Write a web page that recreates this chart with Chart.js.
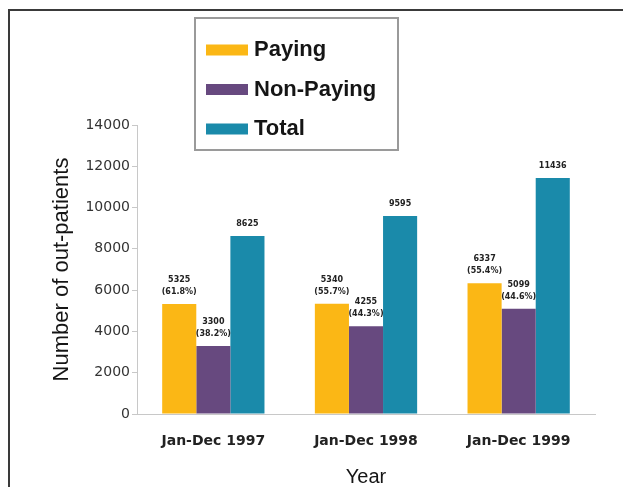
<!DOCTYPE html>
<html>
<head>
<meta charset="utf-8">
<script src="https://cdn.jsdelivr.net/npm/chart.js@4"></script>
<style>
  html, body { margin: 0; padding: 0; background: #fff; }
  canvas { display: block; }
</style>
</head>
<body>
<canvas id="chart" width="623" height="487"></canvas>
<script>
const years = ['Jan-Dec 1997', 'Jan-Dec 1998', 'Jan-Dec 1999']
const paying = [5325, 5340, 6337]
const nonPaying = [3300, 4255, 5099]
const total = [8625, 9595, 11436]
const payingPct = ['61.8%', '55.7%', '55.4%']
const nonPayingPct = ['38.2%', '44.3%', '44.6%']
const yTicks = [0, 2000, 4000, 6000, 8000, 10000, 12000, 14000]

const COLORS = {
  paying: '#FBB715',
  nonPaying: '#67497F',
  total: '#1A8AAA',
}
const SANS = "'Liberation Sans', Arial, sans-serif"

// outer frame (left + top edges of the original figure box)
const framePlugin = {
  id: 'frame',
  beforeDraw(chart) {
    const ctx = chart.ctx
    ctx.save()
    ctx.fillStyle = '#fff'
    ctx.fillRect(0, 0, chart.width, chart.height)
    ctx.fillStyle = '#3a3a3a'
    ctx.fillRect(8, 9, 2, chart.height - 9)
    ctx.fillRect(8, 9, chart.width - 8, 2)
    ctx.restore()
  }
}

// numbers above the bars
const barLabels = {
  id: 'barLabels',
  afterDatasetsDraw(chart) {
    const ctx = chart.ctx
    const extra = [payingPct, nonPayingPct, null]
    ctx.save()
    ctx.font = "bold 8px 'DejaVu Sans', sans-serif"
    ctx.fillStyle = '#222'
    ctx.textAlign = 'center'
    ctx.textBaseline = 'middle'
    chart.data.datasets.forEach((ds, di) => {
      chart.getDatasetMeta(di).data.forEach((bar, i) => {
        const lines = [String(ds.data[i])]
        if (extra[di]) lines.push('(' + extra[di][i] + ')')
        lines.reverse().forEach((t, k) => {
          ctx.fillText(t, bar.x, bar.y - 12 - k * 12)
        })
      })
    })
    ctx.restore()
  }
}

// boxed legend sitting over the top of the plot
const boxLegend = {
  id: 'boxLegend',
  afterDraw(chart) {
    const ctx = chart.ctx
    ctx.save()
    ctx.fillStyle = '#fff'
    ctx.fillRect(195, 18, 203, 132)
    ctx.strokeStyle = '#9a9a9a'
    ctx.lineWidth = 2
    ctx.strokeRect(195, 18, 203, 132)
    ctx.font = 'bold 22px ' + SANS
    ctx.textBaseline = 'alphabetic'
    ctx.textAlign = 'left'
    chart.data.datasets.forEach((ds, i) => {
      const cy = 50 + i * 39.5
      ctx.fillStyle = ds.backgroundColor
      ctx.fillRect(206, cy - 5.5, 42, 11)
      ctx.fillStyle = '#151515'
      ctx.fillText(ds.label, 254, cy + 6)
    })
    ctx.restore()
  }
}

new Chart(document.getElementById('chart'), {
  type: 'bar',
  data: {
    labels: years,
    datasets: [
      { label: 'Paying', data: paying, backgroundColor: COLORS.paying },
      { label: 'Non-Paying', data: nonPaying, backgroundColor: COLORS.nonPaying },
      { label: 'Total', data: total, backgroundColor: COLORS.total },
    ]
  },
  options: {
    responsive: false,
    animation: false,
    devicePixelRatio: 1,
    layout: { padding: { left: 0, top: 125, right: 28, bottom: 0 } },
    datasets: { bar: { barPercentage: 1, categoryPercentage: 0.67 } },
    plugins: { legend: { display: false }, tooltip: { enabled: false } },
    scales: {
      x: {
        afterFit: s => { s.height = 73 },
        grid: { display: false, drawTicks: false },
        border: { display: true, color: '#c8c8c8', width: 1 },
        ticks: { padding: 19, color: '#222', font: { family: "'DejaVu Sans', sans-serif", size: 14, weight: 'bold' } },
        title: { display: true, text: 'Year', color: '#151515', padding: 0, font: { family: SANS, size: 20, lineHeight: 1 } }
      },
      y: {
        min: 0,
        max: 14000,
        afterFit: s => { s.width = 137 },
        afterBuildTicks: s => { s.ticks = yTicks.map(v => ({ value: v })) },
        grid: { drawOnChartArea: false, drawTicks: true, tickLength: 5, color: '#c8c8c8' },
        border: { display: true, color: '#c8c8c8', width: 1 },
        ticks: { padding: 2, color: '#333', font: { family: "'DejaVu Sans', sans-serif", size: 14 }, callback: v => String(v) },
        title: { display: true, text: 'Number of out-patients', color: '#151515', padding: { top: 49 }, font: { family: SANS, size: 22, lineHeight: 1.2 } }
      }
    }
  },
  plugins: [framePlugin, barLabels, boxLegend]
})
</script>
</body>
</html>
